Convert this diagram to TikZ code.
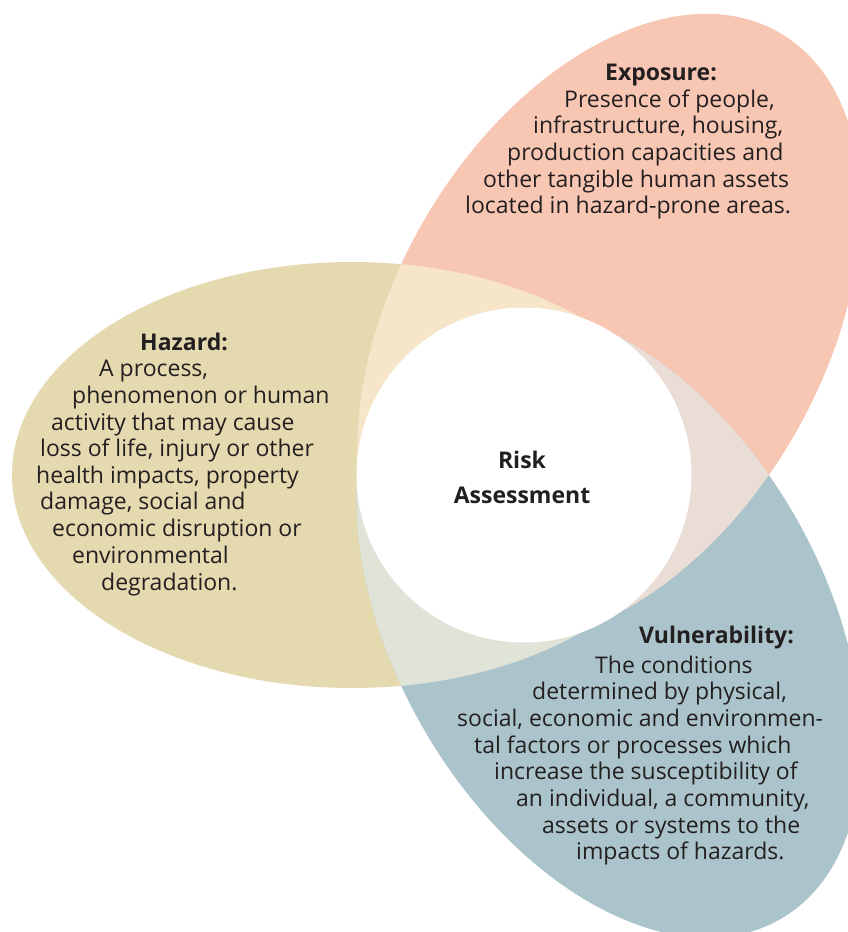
\documentclass[tikz,border=0pt]{standalone}
\usepackage{fontspec}
\setmainfont{Open Sans}
\definecolor{hazardcol}{HTML}{E5D9B0}
\definecolor{exposurecol}{HTML}{F8C7B3}
\definecolor{vulncol}{HTML}{ABC4CB}
\definecolor{hazexp}{HTML}{F7E5CA}
\definecolor{expvul}{HTML}{EADDD5}
\definecolor{hazvul}{HTML}{E0E4D8}
\definecolor{inkgray}{HTML}{231F20}
\begin{document}
\begin{tikzpicture}[x=1pt,y=-1pt,
  body/.style={anchor=base west, inner sep=0pt, text=inkgray,
    font=\fontsize{23}{27}\selectfont},
  heading/.style={body, font=\fontsize{23}{27}\selectfont\bfseries},
  centretext/.style={inner sep=0pt, text=inkgray, align=center,
    font=\fontsize{23}{35}\selectfont\bfseries},
  hazshape/.style={insert path={(352,475) ellipse [x radius=340pt, y radius=213pt]}},
  expshape/.style={rotate around={60:(609,328)},
    insert path={(609,328) ellipse [x radius=341pt, y radius=214pt]}},
  vulshape/.style={rotate around={-60:(609,622)},
    insert path={(609,622) ellipse [x radius=343pt, y radius=214pt]}},
]
\useasboundingbox (0,0) rectangle (848,932);
\clip (0,0) rectangle (848,932);

% three petals
\fill[hazardcol, hazshape];
\fill[exposurecol, expshape];
\fill[vulncol, vulshape];

% pairwise overlaps, each kept to its own side of the centre
\begin{scope}
  \clip (0,0) rectangle (848,475);
  \clip[hazshape];
  \fill[hazexp, expshape];
\end{scope}
\begin{scope}
  \clip (0,475) rectangle (848,932);
  \clip[hazshape];
  \fill[hazvul, vulshape];
\end{scope}
\begin{scope}
  \clip (524,0) rectangle (848,932);
  \clip[expshape];
  \fill[expvul, vulshape];
\end{scope}

% central circle
\fill[white] (524,475) circle [radius=167.5pt];
\node[centretext] (risk) at (522,477) {Risk\\Assessment};

% hazard text
\node[heading] (haz-title) at (140,350) {Hazard:};
\foreach \x/\y/\t [count=\i] in {
  99/376/{A process,},
  72/403/{phenomenon or human},
  51/430/{activity that may cause},
  40/456/{loss of life, injury or other},
  36/483/{health impacts, property},
  40/509/{damage, social and},
  52/536/{economic disruption or},
  72/563/{environmental},
  101/590/{degradation.}}
  \node[body] (haz-\i) at (\x,\y) {\t};

% exposure text
\node[heading] (exp-title) at (605,80) {Exposure:};
\foreach \x/\y/\t [count=\i] in {
  564/107/{Presence of people,},
  533/133/{infrastructure, housing,},
  507/160/{production capacities and},
  483/187/{other tangible human assets},
  465/213/{located in hazard-prone areas.}}
  \node[body] (exp-\i) at (\x,\y) {\t};

% vulnerability text
\node[heading] (vul-title) at (639,643) {Vulnerability:};
\foreach \x/\y/\t [count=\i] in {
  595/673/{The conditions},
  532/699/{determined by physical,},
  457/726/{social, economic and environmen-},
  474/753/{tal factors or processes which},
  494/779/{increase the susceptibility of},
  516/806/{an individual, a community,},
  542/833/{assets or systems to the},
  576/859/{impacts of hazards.}}
  \node[body] (vul-\i) at (\x,\y) {\t};
\end{tikzpicture}
\end{document}
